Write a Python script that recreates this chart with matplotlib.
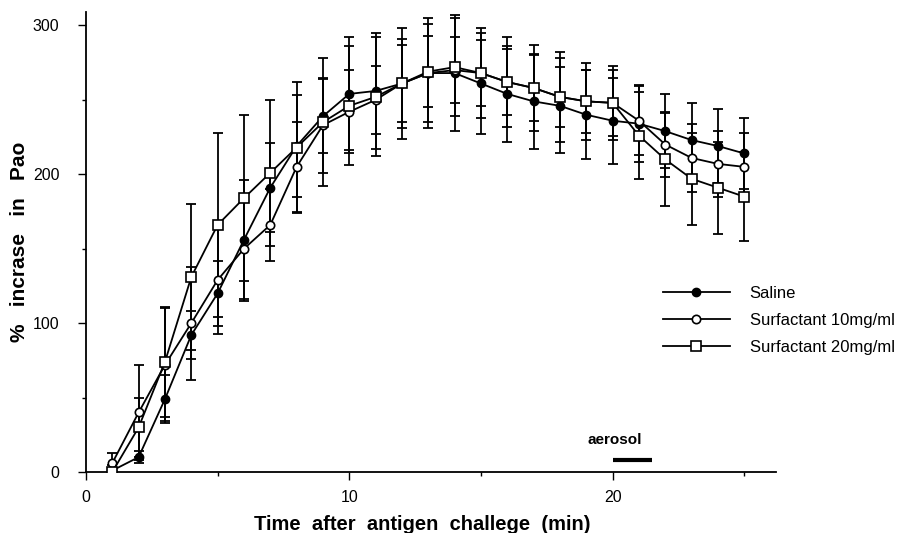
import matplotlib.pyplot as plt
import numpy as np

plt.rcParams['font.family'] = ['Liberation Sans', 'DejaVu Sans']

# time after challenge (min)
t = np.arange(1, 26)

saline = [1, 10, 49, 92, 120, 156, 191, 219, 239, 254, 256, 261, 268, 268, 261,
          254, 249, 246, 240, 236, 234, 229, 223, 219, 214]
saline_se = [2, 4, 16, 16, 22, 40, 30, 34, 25, 38, 39, 37, 37, 39, 34,
             32, 32, 32, 30, 29, 26, 25, 25, 25, 24]

surf10 = [6, 40, 72, 100, 129, 150, 166, 205, 233, 242, 250, 261, 268, 270, 268,
          262, 258, 252, 249, 248, 236, 220, 211, 207, 205]
surf10_se = [7, 32, 38, 38, 36, 35, 24, 30, 32, 28, 23, 26, 33, 22, 22,
             30, 22, 20, 21, 25, 23, 22, 23, 22, 23]

surf20 = [0, 30, 74, 131, 166, 184, 201, 218, 235, 246, 252, 261, 269, 272, 268,
          262, 258, 252, 249, 248, 226, 210, 197, 191, 185]
surf20_se = [5, 20, 37, 49, 62, 56, 49, 44, 43, 40, 40, 30, 24, 33, 30,
             22, 29, 30, 26, 22, 29, 31, 31, 31, 30]

fig = plt.figure(figsize=(9.03, 5.33), dpi=100)
ax = fig.add_axes([0.0952, 0.1144, 0.764, 0.863])

for y, e in [(saline, saline_se), (surf10, surf10_se), (surf20, surf20_se)]:
    ax.errorbar(t, y, yerr=e, fmt='none', ecolor='black', elinewidth=1.3,
                capsize=3.5, capthick=1.3, zorder=2)

ax.plot(t, saline, '-o', color='black', lw=1.3, ms=6, mfc='black', mec='black',
        label='Saline', zorder=3)
ax.plot(t, surf10, '-o', color='black', lw=1.3, ms=6, mfc='white', mec='black',
        mew=1.2, label='Surfactant 10mg/ml', zorder=4)
ax.plot(t, surf20, '-s', color='black', lw=1.3, ms=6.5, mfc='white', mec='black',
        mew=1.2, label='Surfactant 20mg/ml', zorder=5)

ax.set_xlim(0, 26.2)
ax.set_ylim(0, 309)
ax.set_xticks([0, 10, 20])
ax.set_xticks([5, 15, 25], minor=True)
ax.set_yticks([0, 100, 200, 300])
ax.set_yticks([50, 150, 250], minor=True)
ax.tick_params(which='major', direction='out', length=6, width=1, labelsize=11.5)
ax.tick_params(which='minor', direction='out', length=3, width=1)
ax.tick_params(axis='y', which='major', pad=13)
ax.tick_params(axis='x', which='major', pad=7)
ax.spines['top'].set_visible(False)
ax.spines['right'].set_visible(False)
ax.spines['left'].set_linewidth(1.3)
ax.spines['bottom'].set_linewidth(1.3)

ax.set_xlabel('Time  after  antigen  challege  (min)', fontsize=14.5,
              fontweight='bold')
ax.xaxis.set_label_coords((422 - 86) / 690, -43 / 460)
ax.set_ylabel('%   incrase   in   Pao', fontsize=15, fontweight='bold')
ax.yaxis.set_label_coords(-57 / 690, 0.5)

# aerosol marker
ax.plot([20, 21.5], [8, 8], color='black', lw=3, solid_capstyle='butt')
ax.text(20.1, 17, 'aerosol', fontsize=11, fontweight='bold', ha='center',
        va='bottom')

ax.legend(loc='upper left', bbox_to_anchor=(663 / 903, 1 - 286 / 533),
          bbox_transform=fig.transFigure, frameon=False, fontsize=12,
          handlelength=4.0, handletextpad=1.2, labelspacing=0.72,
          borderpad=0, borderaxespad=0)

fig.savefig('out.png', dpi=100)
